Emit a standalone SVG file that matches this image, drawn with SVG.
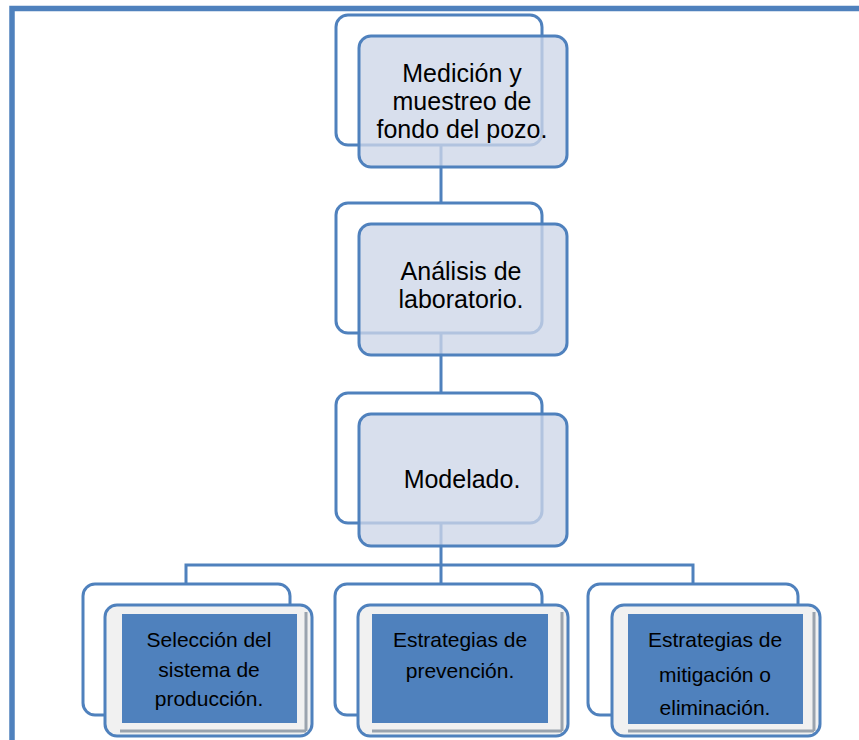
<svg xmlns="http://www.w3.org/2000/svg" width="859" height="740" viewBox="0 0 859 740">
<style>
.line{stroke:#4f81bd;stroke-width:3;fill:none}
.back{fill:none;stroke:#4f81bd;stroke-width:3}
.front{fill:#cdd6e8;fill-opacity:0.78;stroke:#4f81bd;stroke-width:3}
.bfront{fill:#f1f1f1;stroke:#4f81bd;stroke-width:3}
.inner{fill:#4f81bd}
.shadow{stroke:#9aa3ae;stroke-width:3;fill:none}
.t{font-family:"Liberation Sans",Arial,sans-serif;font-size:25px;fill:#000;text-anchor:middle}
.s{font-family:"Liberation Sans",Arial,sans-serif;font-size:21px;fill:#000;text-anchor:middle}
</style>
<rect width="859" height="740" fill="#fff"/>
<path d="M12,742 L12,8.5 L862,8.5" fill="none" stroke="#4f81bd" stroke-width="5.5"/>
<g id="connectors">
<path class="line" d="M441,145 L441,203"/>
<path class="line" d="M441,333 L441,393"/>
<path class="line" d="M441,523 L441,565"/>
<path class="line" d="M186,583 L186,565 L693,565 L693,583"/>
<path class="line" d="M441,565 L441,583"/>
</g>
<g id="node1">
<rect class="back" x="336" y="15" width="206" height="130" rx="12"/>
<rect class="front" x="359" y="36" width="208" height="131" rx="12"/>
<text class="t" x="462" y="82">Medición y</text>
<text class="t" x="462" y="110">muestreo de</text>
<text class="t" x="462" y="138">fondo del pozo.</text>
</g>
<g id="node2">
<rect class="back" x="336" y="203" width="206" height="130" rx="12"/>
<rect class="front" x="359" y="224" width="208" height="131" rx="12"/>
<text class="t" x="461" y="280">Análisis de</text>
<text class="t" x="461" y="308">laboratorio.</text>
</g>
<g id="node3">
<rect class="back" x="336" y="393" width="206" height="130" rx="12"/>
<rect class="front" x="359" y="414" width="208" height="132" rx="12"/>
<text class="t" x="462" y="488">Modelado.</text>
</g>
<g id="nodeA">
<rect class="back" x="83" y="584" width="207" height="131" rx="12"/>
<rect class="bfront" x="105" y="605" width="207" height="131" rx="12"/>
<path class="shadow" d="M120,731 L300,731 L306,731 M306,612 L306,731"/>
<rect class="inner" x="122" y="614" width="175" height="109"/>
<text class="s" x="209" y="647">Selección del</text>
<text class="s" x="209" y="677">sistema de</text>
<text class="s" x="209" y="706">producción.</text>
</g>
<g id="nodeB">
<rect class="back" x="335" y="584" width="207" height="131" rx="12"/>
<rect class="bfront" x="358" y="605" width="210" height="131" rx="12"/>
<path class="shadow" d="M372,731 L562,731 M562,612 L562,731"/>
<rect class="inner" x="372" y="614" width="176" height="109"/>
<text class="s" x="460" y="647">Estrategias de</text>
<text class="s" x="460" y="678">prevención.</text>
</g>
<g id="nodeC">
<rect class="back" x="588" y="584" width="210" height="131" rx="12"/>
<rect class="bfront" x="612" y="605" width="208" height="131" rx="12"/>
<path class="shadow" d="M628,731 L814,731 M814,612 L814,731"/>
<rect class="inner" x="628" y="614" width="175" height="110"/>
<text class="s" x="715" y="647">Estrategias de</text>
<text class="s" x="715" y="682">mitigación o</text>
<text class="s" x="715" y="715">eliminación.</text>
</g>
</svg>
